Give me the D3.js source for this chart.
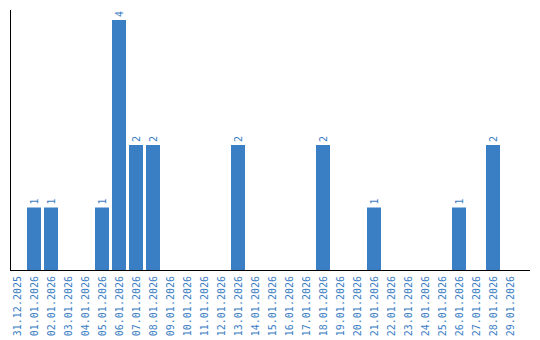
<!DOCTYPE html>
<html>
<head>
<meta charset="utf-8">
<script src="https://cdn.jsdelivr.net/npm/d3@7"></script>
<style>
  body { margin: 0; background: #fff; }
  text { font-family: "DejaVu Sans Mono", monospace; font-size: 10px; fill: #3a7dc4; }
</style>
</head>
<body>
<div id="chart"></div>
<script>
var days = ["31.12.2025","01.01.2026","02.01.2026","03.01.2026","04.01.2026","05.01.2026",
  "06.01.2026","07.01.2026","08.01.2026","09.01.2026","10.01.2026","11.01.2026","12.01.2026",
  "13.01.2026","14.01.2026","15.01.2026","16.01.2026","17.01.2026","18.01.2026","19.01.2026",
  "20.01.2026","21.01.2026","22.01.2026","23.01.2026","24.01.2026","25.01.2026","26.01.2026",
  "27.01.2026","28.01.2026","29.01.2026"];
var counts = [0,1,1,0,0,1,4,2,2,0,0,0,0,2,0,0,0,0,2,0,0,1,0,0,0,0,1,0,2,0];

var chart = { width: 540, height: 340, left: 10, right: 530, top: 10, bottom: 270, barColor: "#3a7ec4" };

var svg = d3.select("#chart").append("svg")
  .attr("width", chart.width)
  .attr("height", chart.height);

var x = d3.scaleBand()
  .domain(days)
  .range([chart.left, chart.left + 507])
  .paddingInner(3 / 17)
  .paddingOuter(0);

var y = d3.scaleLinear()
  .domain([0, 4])
  .range([chart.bottom, 20]);

// bars
svg.append("g").selectAll("rect")
  .data(days)
  .enter()
  .append("rect")
  .filter(function(d, i) { return counts[i] > 0; })
  .attr("x", function(d) { return x(d); })
  .attr("width", x.bandwidth())
  .attr("y", function(d) { return y(counts[days.indexOf(d)]); })
  .attr("height", function(d) { return chart.bottom - y(counts[days.indexOf(d)]); })
  .style("fill", chart.barColor);

// value labels
svg.append("g").selectAll("text")
  .data(days.filter(function(d, i) { return counts[i] > 0; }))
  .enter()
  .append("text")
  .attr("transform", function(d) {
    return "translate(" + (x(d) + x.bandwidth() / 2) + "," + (y(counts[days.indexOf(d)]) - 3) + ") rotate(-90)";
  })
  .attr("dy", "0.35em")
  .text(function(d) { return counts[days.indexOf(d)]; });

// axes
svg.append("line")
  .attr("x1", chart.left + 0.5).attr("x2", chart.left + 0.5)
  .attr("y1", chart.top).attr("y2", chart.bottom + 1)
  .style("stroke", "#000").style("stroke-width", 1);
svg.append("line")
  .attr("x1", chart.left).attr("x2", chart.right)
  .attr("y1", chart.bottom + 0.5).attr("y2", chart.bottom + 0.5)
  .style("stroke", "#000").style("stroke-width", 1);

// tick labels
svg.append("g").selectAll("text")
  .data(days)
  .enter()
  .append("text")
  .attr("transform", function(d) {
    return "translate(" + (x(d) + x.bandwidth() / 2) + "," + (chart.bottom + 6) + ") rotate(-90)";
  })
  .attr("dy", "0.35em")
  .style("text-anchor", "end")
  .text(function(d) { return d; });
</script>
</body>
</html>
